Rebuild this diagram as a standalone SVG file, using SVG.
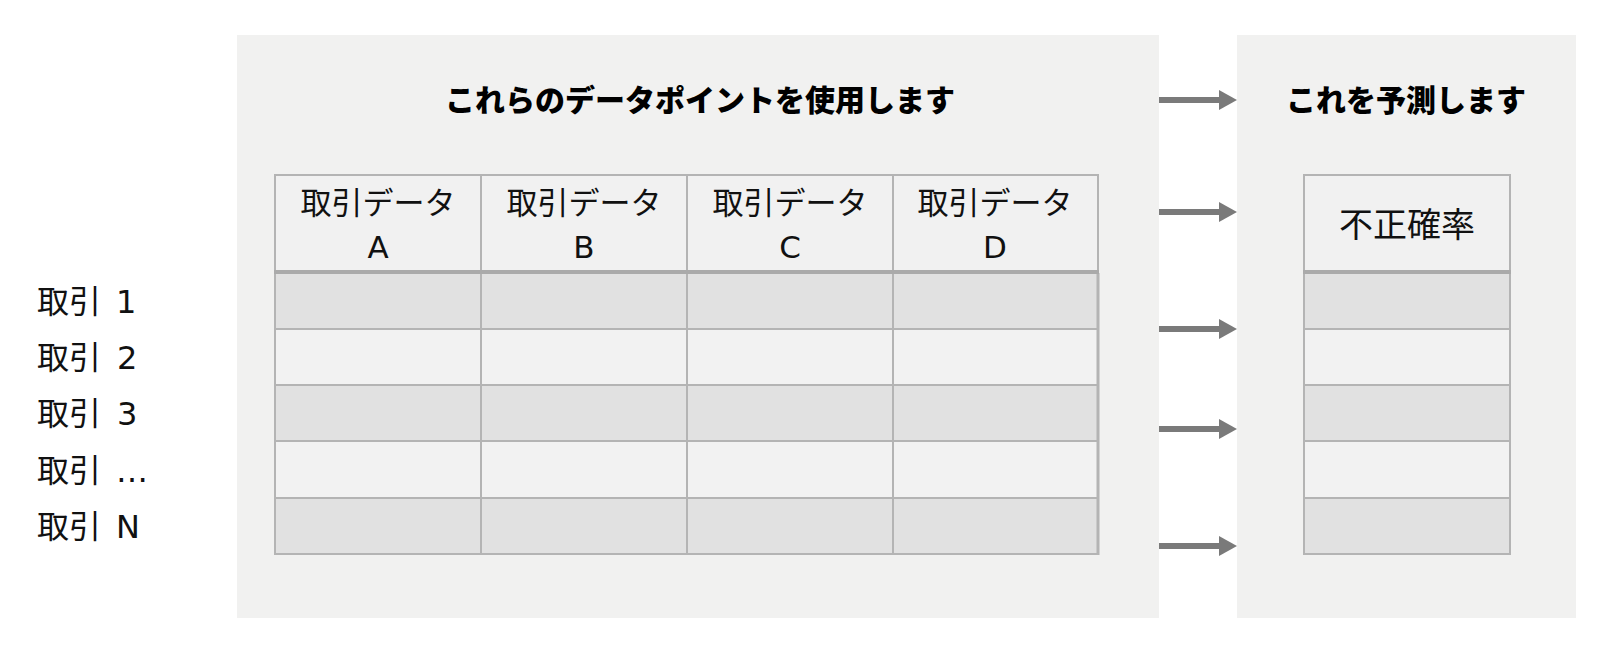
<svg xmlns="http://www.w3.org/2000/svg" width="1606" height="656" viewBox="0 0 1606 656">
<style>
.panel{fill:#f1f1f0}
.hdr{fill:#f1f1f1;stroke:#b4b4b4;stroke-width:2}
.dk{fill:#e1e1e1;stroke:#b4b4b4;stroke-width:2}
.lt{fill:#f2f2f2;stroke:#b4b4b4;stroke-width:2}
.sep{stroke:#aaaaaa;stroke-width:4}
.t{font-family:"Noto Sans CJK JP","Noto Sans",sans-serif;fill:#111}
.lat{font-family:"DejaVu Sans","Noto Sans CJK JP",sans-serif}
.title{font-size:30px;font-weight:900;text-anchor:middle;fill:#000}
.h{font-size:31px;text-anchor:middle}
.lab{font-size:32px}
.arr{stroke:#7a7a7a;stroke-width:6;fill:none;marker-end:url(#ah)}
</style>
<defs>
<marker id="ah" markerUnits="userSpaceOnUse" markerWidth="18" markerHeight="20" refX="0" refY="10" orient="auto" overflow="visible">
<path d="M0,0 L18,10 L0,20 Z" fill="#7a7a7a"/>
</marker>
</defs>
<rect width="1606" height="656" fill="#ffffff"/>
<g id="input-panel">
<rect class="panel" x="237" y="35" width="922" height="583"/>
<text class="t title" x="700" y="111">これらのデータポイントを使用します</text>
</g>
<g id="input-table">
<rect class="hdr" x="275" y="175" width="206" height="97"/>
<rect class="hdr" x="481" y="175" width="206" height="97"/>
<rect class="hdr" x="687" y="175" width="206" height="97"/>
<rect class="hdr" x="893" y="175" width="205" height="97"/>
<g id="rows">
<rect class="dk" x="275" y="273" width="823" height="56"/>
<rect class="lt" x="275" y="329" width="823" height="56"/>
<rect class="dk" x="275" y="385" width="823" height="56"/>
<rect class="lt" x="275" y="441" width="823" height="57"/>
<rect class="dk" x="275" y="498" width="823" height="56"/>
<path d="M481,273V554M687,273V554M893,273V554" stroke="#b4b4b4" stroke-width="2"/>
<path d="M1098,273V555" stroke="#b4b4b4" stroke-width="3"/>
</g>
<line class="sep" x1="274" y1="272" x2="1099" y2="272"/>
<text class="t h" x="378" y="214">取引データ</text>
<text class="t h lat" x="378" y="258">A</text>
<text class="t h" x="584" y="214">取引データ</text>
<text class="t h lat" x="584" y="258">B</text>
<text class="t h" x="790" y="214">取引データ</text>
<text class="t h lat" x="790" y="258">C</text>
<text class="t h" x="995" y="214">取引データ</text>
<text class="t h lat" x="995" y="258">D</text>
</g>
<g id="output-panel">
<rect class="panel" x="1237" y="35" width="339" height="583"/>
<text class="t title" x="1406" y="111">これを予測します</text>
</g>
<g id="output-table">
<rect class="hdr" x="1304" y="175" width="206" height="97"/>
<rect class="dk" x="1304" y="273" width="206" height="56"/>
<rect class="lt" x="1304" y="329" width="206" height="56"/>
<rect class="dk" x="1304" y="385" width="206" height="56"/>
<rect class="lt" x="1304" y="441" width="206" height="57"/>
<rect class="dk" x="1304" y="498" width="206" height="56"/>
<line class="sep" x1="1303" y1="272" x2="1511" y2="272"/>
<text class="t h" x="1407" y="237" style="font-size:34px">不正確率</text>
</g>
<g id="row-labels">
<text class="t lab" x="37" y="313">取引 <tspan class="lat" x="116">1</tspan></text>
<text class="t lab" x="37" y="369">取引 <tspan class="lat" x="117">2</tspan></text>
<text class="t lab" x="37" y="425">取引 <tspan class="lat" x="117">3</tspan></text>
<text class="t lab" x="37" y="482">取引 <tspan class="lat" x="116">…</tspan></text>
<text class="t lab" x="37" y="538">取引 <tspan class="lat" x="116">N</tspan></text>
</g>
<g id="connectors">
<line class="arr" x1="1159" y1="100" x2="1219" y2="100"/>
<line class="arr" x1="1159" y1="212" x2="1219" y2="212"/>
<line class="arr" x1="1159" y1="329" x2="1219" y2="329"/>
<line class="arr" x1="1159" y1="429" x2="1219" y2="429"/>
<line class="arr" x1="1159" y1="546" x2="1219" y2="546"/>
</g>
</svg>
